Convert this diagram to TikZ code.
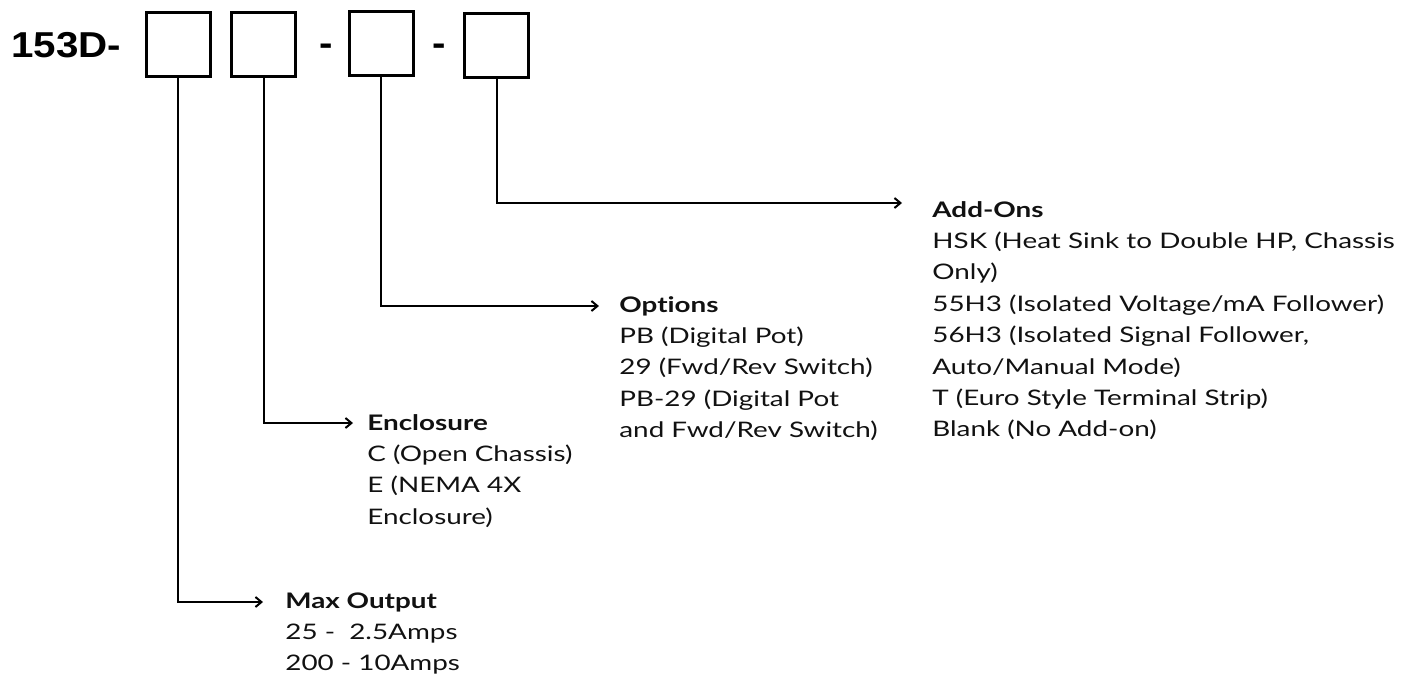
\documentclass[tikz,border=0pt]{standalone}
\usepackage{fontspec}
\setmainfont{Lato}[FakeStretch=1.3, Ligatures=NoCommon]
\newfontfamily\ttlfont{Liberation Sans}[FakeStretch=1.12]
\usetikzlibrary{arrows.meta}
\definecolor{ink}{HTML}{111111}
\newcommand\bodyfnt{\fontsize{10.7pt}{12pt}\selectfont}
\newcommand\headfnt{\fontsize{18pt}{20pt}\selectfont\ttlfont\bfseries}
\begin{document}
\begin{tikzpicture}[x=0.5pt,y=-0.5pt,
  box/.style={draw, line width=1.5pt, minimum width=32pt, minimum height=32pt, inner sep=0pt},
  conn/.style={line width=1pt, -{Straight Barb[length=3pt,width=5pt]}},
  head/.style={anchor=base west, inner sep=0pt, text=ink, font=\bodyfnt\bfseries},
  item/.style={anchor=base west, inner sep=0pt, text=ink, font=\bodyfnt},
  ttl/.style={anchor=base west, inner sep=0pt, text=black, font=\headfnt},
  hyph/.style={anchor=base, inner sep=0pt, text=black, font=\headfnt}]
\useasboundingbox (0,0) rectangle (1418,687);

% part number
\node[ttl] (title) at (11,57.3) {153D-};
\node[box] (b1) at (178,44.5) {};
\node[box] (b2) at (263.7,44.5) {};
\node[hyph] (d1) at (326.2,55.3) {-};
\node[box] (b3) at (381.3,43.5) {};
\node[hyph] (d2) at (438.9,55.3) {-};
\node[box] (b4) at (496.5,45) {};

% Max Output
\node[head] (h1) at (285,608) {Max Output};
\foreach \t [count=\i] in {{25 -\ \ 2.5Amps},{200 - 10Amps}}
  \node[item] (m\i) at (285,608+31.4*\i) {\t};
\coordinate (a1) at (263,602);
\draw[conn] (b1.south) |- (a1);

% Enclosure
\node[head] (h2) at (367,430) {Enclosure};
\foreach \t [count=\i] in {{C (Open Chassis)},{E (NEMA 4X},{Enclosure)}}
  \node[item] (e\i) at (367,430+31.4*\i) {\t};
\coordinate (a2) at (353,423);
\draw[conn] (b2.south) |- (a2);

% Options
\node[head] (h3) at (619,312) {Options};
\foreach \t [count=\i] in {{PB (Digital Pot)},{29 (Fwd/Rev Switch)},{PB-29 (Digital Pot},{and Fwd/Rev Switch)}}
  \node[item] (o\i) at (619,312+31.4*\i) {\t};
\coordinate (a3) at (599,306);
\draw[conn] (b3.south) |- (a3);

% Add-Ons
\node[head] (h4) at (932,217) {Add-Ons};
\foreach \t [count=\i] in {{HSK (Heat Sink to Double HP, Chassis},{Only)},{55H3 (Isolated Voltage/mA Follower)},{56H3 (Isolated Signal Follower,},{Auto/Manual Mode)},{T (Euro Style Terminal Strip)},{Blank (No Add-on)}}
  \node[item] (ad\i) at (932,217+31.4*\i) {\t};
\coordinate (a4) at (902,203);
\draw[conn] (b4.south) |- (a4);
\end{tikzpicture}
\end{document}
